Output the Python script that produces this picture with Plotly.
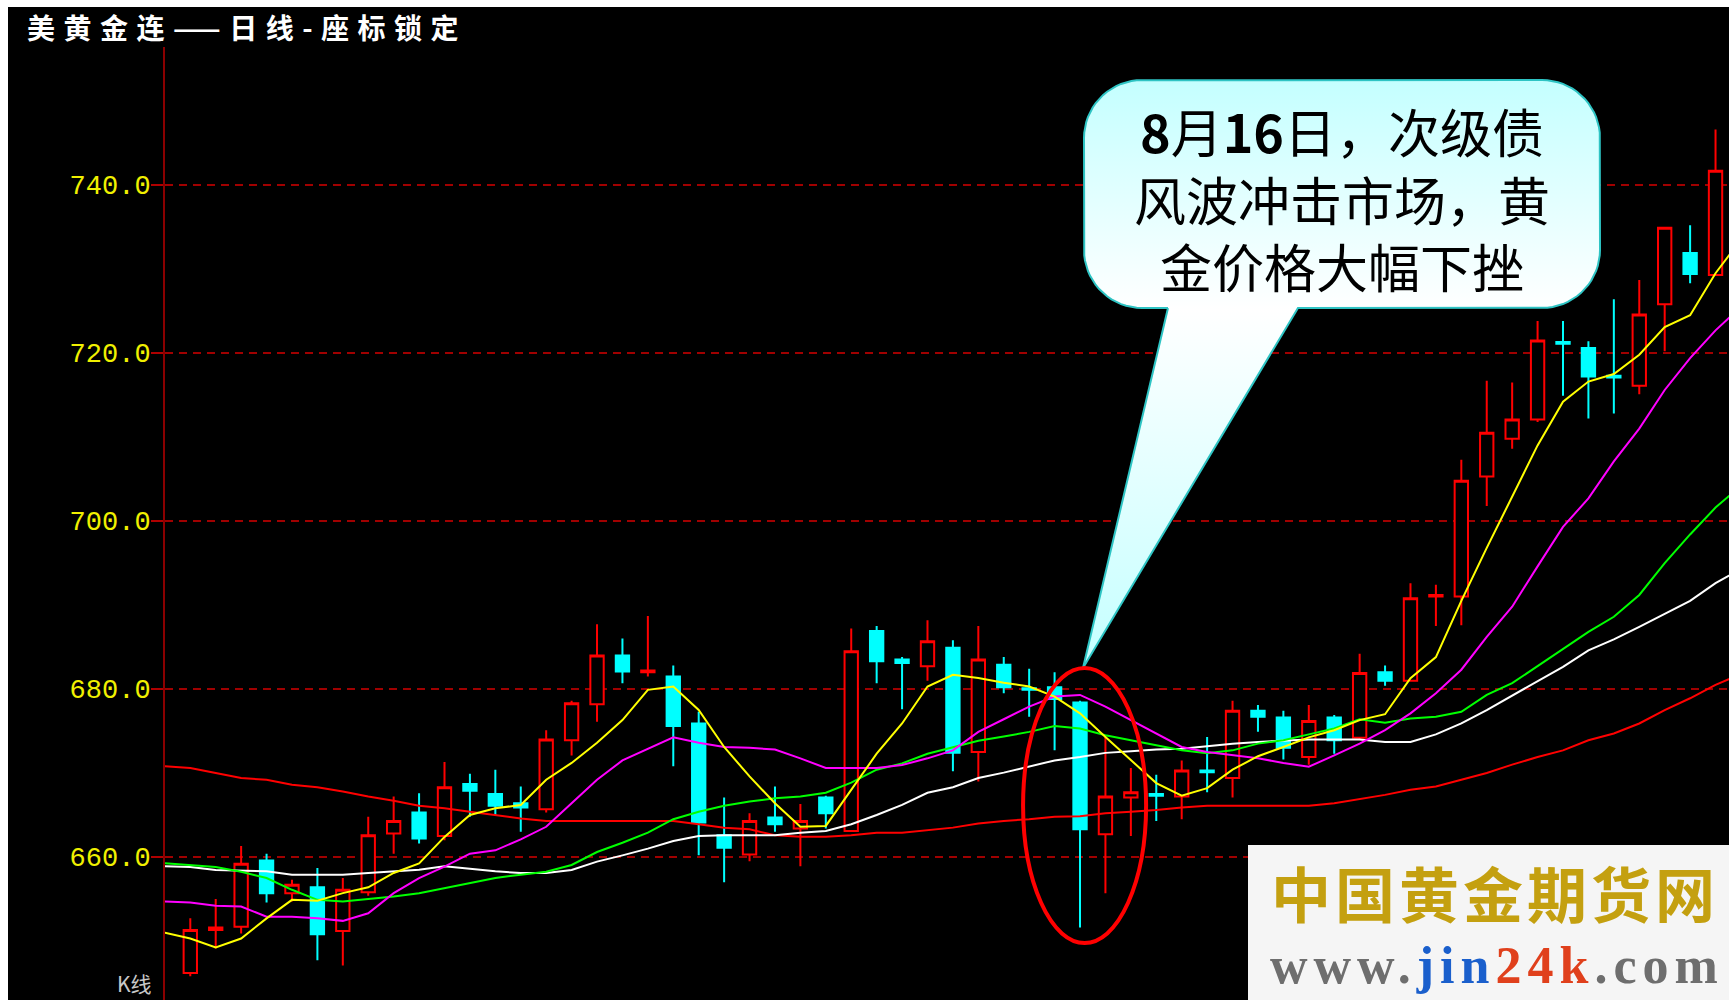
import numpy as np
import plotly.graph_objects as go

# ---------------- data ----------------
days = list(range(61))
opens = [646.2, 651.3, 651.7, 659.6, 655.7, 656.4, 651.2, 655.8, 662.8, 665.3,
         662.5, 668.7, 667.5, 666.4, 665.7, 673.9, 678.2, 684.0, 682.0, 681.5,
         675.9, 662.6, 660.3, 664.7, 663.4, 667.1, 663.1, 686.9, 683.5, 682.7,
         684.9, 672.5, 682.9, 680.1, 680.2, 678.4, 662.7, 667.1, 667.5, 667.2,
         670.3, 669.4, 677.4, 676.6, 671.9, 676.6, 674.2, 682.0, 681.0, 691.0,
         691.0, 705.3, 709.8, 712.1, 721.3, 720.6, 717.3, 716.1, 725.8, 731.9, 729.3]
highs = [652.7, 655.0, 661.3, 660.4, 657.3, 658.7, 657.5, 664.8, 667.2, 667.6,
         671.3, 669.9, 670.4, 668.4, 675.1, 678.6, 687.7, 686.0, 688.7, 682.8,
         677.3, 667.1, 665.2, 668.4, 666.3, 667.3, 687.2, 687.5, 683.8, 688.2,
         685.8, 687.5, 683.8, 682.4, 682.0, 678.6, 674.3, 670.6, 669.8, 671.5,
         674.3, 678.6, 678.1, 677.4, 678.1, 676.9, 684.2, 682.8, 692.6, 692.4,
         707.3, 716.7, 716.5, 723.8, 723.8, 721.4, 726.4, 728.7, 735.0, 735.2, 746.6]
lows = [645.8, 649.1, 650.9, 654.6, 654.7, 647.7, 647.1, 655.4, 660.4, 661.6,
        662.0, 664.8, 665.0, 663.0, 665.3, 672.1, 676.1, 680.7, 681.5, 670.8,
        660.2, 657.0, 659.5, 663.0, 658.9, 663.4, 663.0, 680.7, 677.6, 681.0,
        670.2, 669.0, 679.5, 676.7, 672.7, 651.6, 655.7, 662.5, 664.3, 664.5,
        667.7, 667.1, 674.9, 671.6, 671.0, 672.3, 674.0, 680.4, 680.9, 687.5,
        687.6, 701.8, 708.6, 711.8, 714.9, 712.2, 712.8, 715.1, 720.2, 728.3, 729.2]
closes = [651.3, 651.6, 659.2, 655.7, 656.7, 650.8, 656.1, 662.6, 664.3, 662.2,
          668.3, 667.9, 666.1, 665.9, 674.0, 678.3, 684.0, 682.1, 682.2, 675.6,
          664.1, 661.1, 664.3, 663.9, 664.3, 665.2, 684.5, 683.3, 683.1, 685.7,
          672.4, 683.5, 680.2, 679.9, 678.8, 663.3, 667.2, 667.7, 667.3, 670.3,
          670.1, 677.4, 676.7, 673.0, 676.2, 673.9, 681.9, 681.0, 690.8, 691.2,
          704.8, 710.5, 712.1, 721.5, 721.1, 717.2, 717.1, 724.6, 734.9, 729.4, 741.7]

# moving-average lines, read at each candle (plus the left/right chart edges)
ma_x = [-1] + list(range(61)) + [61]
ma5 = [651.0, 650.3, 649.25, 650.3, 652.7, 654.9, 654.8, 655.7, 656.4, 658.1, 659.25,
       662.4, 665.0, 665.8, 666.2, 669.2, 671.2, 673.6, 676.3, 679.9, 680.3,
       677.5, 673.1, 669.6, 666.4, 663.6, 663.7, 668.0, 672.3, 675.9, 680.3,
       681.7, 681.3, 680.75, 680.3, 679.1, 677.1, 674.3, 671.5, 668.8, 667.3,
       668.2, 670.4, 672.0, 673.1, 674.25, 675.1, 676.3, 677.0, 681.3, 683.8,
       690.5, 696.8, 703.0, 709.0, 714.2, 716.6, 717.5, 719.8, 723.1, 724.5, 729.5, 733.5]
ma10 = [654.7, 654.6, 654.2, 654.1, 652.9, 652.9, 652.7, 652.4, 653.3, 655.7, 657.5,
        658.85, 660.4, 660.8, 662.1, 663.6, 666.4, 669.2, 671.5, 672.9, 674.25,
        673.6, 673.1, 673.0, 672.8, 671.75, 670.6, 670.6, 670.6, 670.95, 671.75,
        672.7, 674.9, 676.4, 677.9, 679.1, 679.3, 677.9, 676.3, 674.7, 673.1,
        672.5, 672.1, 671.75, 671.2, 670.75, 672.1, 673.5, 675.1, 677.1, 679.5,
        682.3, 686.2, 689.8, 694.6, 699.3, 702.7, 707.1, 711.0, 715.6, 719.4, 722.7, 725.5]
ma20 = [659.25, 659.05, 658.8, 658.25, 657.5, 656.1, 654.9, 654.7, 655.0, 655.3, 655.7,
        656.3, 656.9, 657.5, 657.9, 658.25, 659.05, 660.6, 661.7, 662.9, 664.5,
        665.4, 666.1, 666.6, 667.0, 667.2, 667.65, 668.85, 670.4, 671.15, 672.3,
        673.1, 673.85, 674.35, 674.9, 675.6, 675.3, 674.5, 673.9, 673.3, 672.7,
        672.35, 672.7, 673.5, 673.9, 674.6, 675.3, 676.4, 676.0, 676.5, 676.7,
        677.3, 679.3, 680.7, 682.7, 684.8, 686.8, 688.6, 691.2, 695.0, 698.4, 701.6, 704.2]
ma30 = [658.9, 658.8, 658.45, 658.4, 658.3, 657.9, 657.9, 657.9, 658.1, 658.3, 658.5,
        658.9, 658.6, 658.3, 658.1, 658.1, 658.45, 659.45, 660.2, 661.0, 661.9,
        662.5, 662.6, 662.6, 662.6, 662.9, 663.1, 663.9, 665.0, 666.2, 667.65,
        668.3, 669.4, 670.05, 670.8, 671.5, 671.9, 672.4, 672.6, 672.8, 672.9,
        673.2, 673.5, 673.7, 673.85, 674.0, 674.0, 674.0, 673.7, 673.7, 674.6,
        675.9, 677.5, 679.2, 680.9, 682.65, 684.6, 685.9, 687.4, 689.0, 690.5, 692.6, 694.3]
ma60 = [670.8, 670.6, 670.0, 669.4, 669.2, 668.6, 668.3, 667.8, 667.2, 666.7, 666.1,
        665.8, 665.4, 665.0, 664.6, 664.3, 664.3, 664.3, 664.3, 664.3, 664.3,
        663.9, 663.5, 663.3, 662.6, 662.4, 662.4, 662.6, 662.9, 662.9, 663.2,
        663.5, 664.0, 664.3, 664.5, 664.8, 664.85, 665.2, 665.4, 665.6, 665.9,
        666.1, 666.1, 666.1, 666.1, 666.1, 666.4, 666.9, 667.4, 668.0, 668.4,
        669.2, 670.0, 671.0, 671.9, 672.7, 673.9, 674.7, 675.9, 677.5, 678.9, 680.5, 681.8]

y_tickvals = [660, 680, 700, 720, 740]
y_ticktext = ["660.0", "680.0", "700.0", "720.0", "740.0"]

title_text = "美黄金连——日线-座标锁定"
corner_label = "K线"
callout_lines = ["<b>8</b>月<b>16</b>日，次级债", "风波冲击市场，黄", "金价格大幅下挫"]
logo_cn = "中国黄金期货网"
logo_url_parts = [("www.", "#6E6E6E"), ("jin", "#1A5FCC"), ("24k", "#E0401C"), (".com", "#6E6E6E")]

# ---------------- layout geometry ----------------
W, H = 1729, 1000
ML, MT = 165, 47
X_RANGE = [-0.995, 60.53]
Y_RANGE = [642.98, 756.43]


def pxx(px):
    return (px - ML) / (W - ML)


def pxy(py):
    return (H - py) / (H - MT)


fig = go.Figure()

fig.add_trace(go.Candlestick(
    x=days, open=opens, high=highs, low=lows, close=closes,
    increasing=dict(line=dict(color="#FF0000", width=2), fillcolor="#000000"),
    decreasing=dict(line=dict(color="#00FFFF", width=2), fillcolor="#00FFFF"),
    whiskerwidth=0, hoverinfo="skip", showlegend=False))

for vals, col in [(ma60, "#FF0000"), (ma30, "#FFFFFF"), (ma20, "#00FF00"),
                  (ma10, "#FF00FF"), (ma5, "#FFFF00")]:
    fig.add_trace(go.Scatter(x=ma_x, y=vals, mode="lines",
                             line=dict(color=col, width=2),
                             hoverinfo="skip", showlegend=False))

# ---------------- callout bubble (pixel-space overlay axes) ----------------
bl, bt, br, bb, rad = 1084, 80, 1600, 308, 58
tail_left, tail_apex, tail_right = (1168, 308), (1083, 668), (1298, 308)


def arc(cx, cy, a0, a1, n=18):
    a = np.radians(np.linspace(a0, a1, n))
    return list(cx + rad * np.cos(a)), list(cy + rad * np.sin(a))


bx = [tail_left[0], tail_apex[0], tail_right[0]]
by = [tail_left[1], tail_apex[1], tail_right[1]]
for cx, cy, a0, a1 in [(br - rad, bb - rad, 90, 0), (br - rad, bt + rad, 0, -90),
                       (bl + rad, bt + rad, -90, -180), (bl + rad, bb - rad, 180, 90)]:
    ax_, ay_ = arc(cx, cy, a0, a1)
    bx += ax_
    by += ay_
bx.append(tail_left[0])
by.append(tail_left[1])

fig.add_trace(go.Scatter(
    x=bx, y=by, xaxis="x2", yaxis="y2", mode="lines", fill="toself",
    fillgradient=dict(type="vertical", start=bt, stop=tail_apex[1],
                      colorscale=[[0, "#C4FFFF"], [0.39, "#FFFFFF"], [1, "#C4FFFF"]]),
    line=dict(color="#2EC4C4", width=2), hoverinfo="skip", showlegend=False))

shapes = [
    dict(type="rect", xref="paper", yref="paper", x0=pxx(8), x1=pxx(1745),
         y0=pxy(1010), y1=pxy(7), fillcolor="#000000", line=dict(width=0), layer="below"),
    dict(type="circle", xref="x", yref="y", x0=32.76, x1=37.60, y0=649.76, y1=682.5,
         line=dict(color="#FF0000", width=4), layer="above"),
    dict(type="rect", xref="x2", yref="y2", x0=1248, x1=1735, y0=845, y1=1005,
         fillcolor="#F5F5F5", line=dict(width=0), layer="above"),
]

url_html = "".join(
    f"<span style='color:{c};letter-spacing:6px'>{t}</span>" for t, c in logo_url_parts)

annotations = [
    dict(xref="paper", yref="paper", x=pxx(25), y=pxy(27), xanchor="left", yanchor="middle",
         text=f"<b><span style='letter-spacing:8.5px'>{title_text}</span></b>",
         font=dict(family="Noto Sans CJK SC", size=28, color="#FFFFFF"), showarrow=False),
    dict(xref="paper", yref="paper", x=pxx(134), y=pxy(1000), xanchor="center", yanchor="bottom",
         text=corner_label, font=dict(family="Noto Sans CJK SC", size=21, color="#C8C8C8"),
         showarrow=False),
    dict(xref="x2", yref="y2", x=1342, y=198, xanchor="center", yanchor="middle",
         text="<br>".join(callout_lines), align="center",
         font=dict(family="Noto Sans CJK SC", size=52, color="#000000"), showarrow=False),
    dict(xref="x2", yref="y2", x=1495, y=891, xanchor="center", yanchor="middle",
         text=f"<b><span style='letter-spacing:4px'>{logo_cn}</span></b>",
         font=dict(family="Noto Sans CJK SC", size=60, color="#C4A010"), showarrow=False),
    dict(xref="x2", yref="y2", x=1497, y=965, xanchor="center", yanchor="middle",
         text=f"<b>{url_html}</b>",
         font=dict(family="Liberation Serif", size=52, color="#6E6E6E"), showarrow=False),
]

fig.update_layout(
    width=W, height=H,
    margin=dict(l=ML, r=0, t=MT, b=0, pad=0),
    paper_bgcolor="#FFFFFF", plot_bgcolor="#000000",
    boxgap=0.25, showlegend=False, hovermode=False,
    xaxis=dict(range=X_RANGE, visible=False, rangeslider=dict(visible=False),
               fixedrange=True, automargin=False),
    yaxis=dict(range=Y_RANGE, tickmode="array", tickvals=y_tickvals, ticktext=y_ticktext,
               tickfont=dict(family="Liberation Mono", size=27, color="#F0F000"),
               ticks="outside", ticklen=12, tickwidth=2, tickcolor="#B00000",
               ticklabelstandoff=-5,
               showgrid=True, gridcolor="#A00000", gridwidth=1.5, griddash="8px,6px",
               showline=True, linecolor="#8B0000", linewidth=2, zeroline=False,
               fixedrange=True, automargin=False),
    xaxis2=dict(overlaying="x", range=[ML, W], visible=False, fixedrange=True, anchor="y2"),
    yaxis2=dict(overlaying="y", range=[H, MT], visible=False, fixedrange=True, anchor="x2"),
    shapes=shapes, annotations=annotations,
)

fig.write_html(
    "out.html",
    config={"displayModeBar": False},
    post_script="document.body.style.margin='0';"
                "document.body.style.overflow='hidden';"
                "document.documentElement.style.overflow='hidden';")
